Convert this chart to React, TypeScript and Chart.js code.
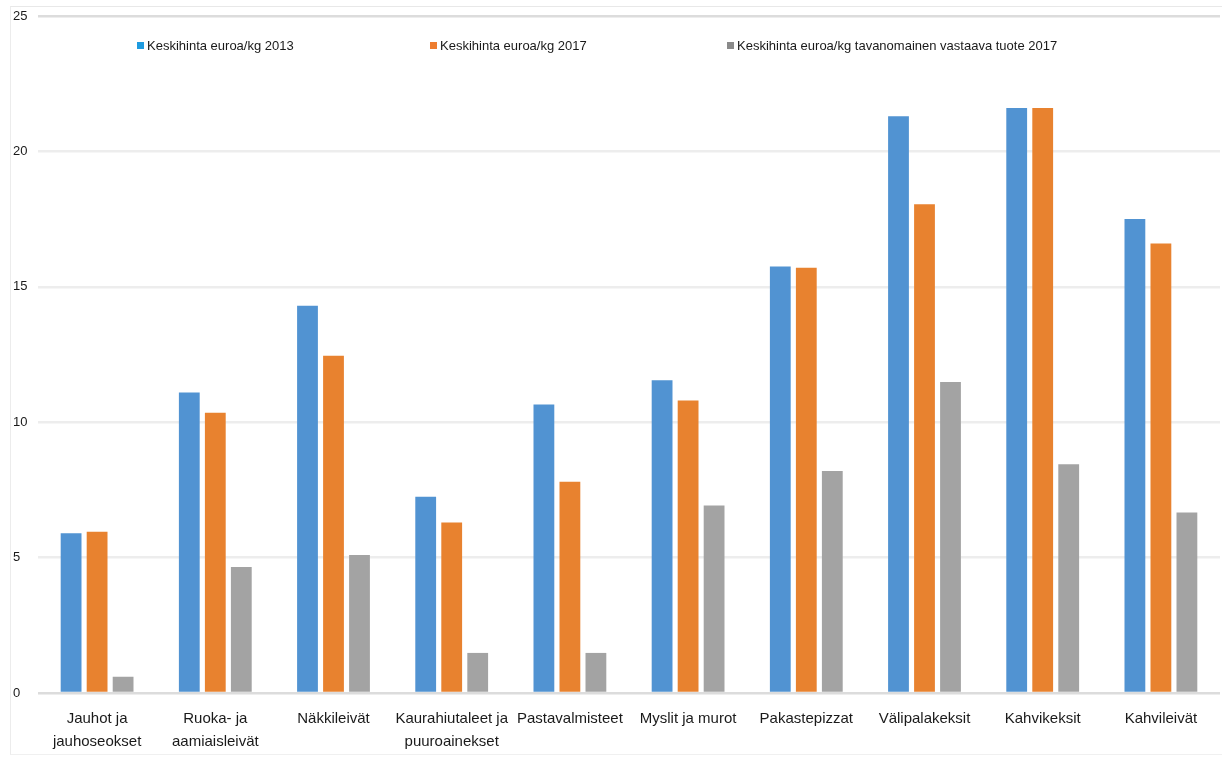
import React, { useEffect, useRef } from "react";
import { Chart, registerables } from "chart.js";

Chart.register(...registerables);

const categories: (string | string[])[] = [
  ["Jauhot ja", "jauhoseokset"],
  ["Ruoka- ja", "aamiaisleivät"],
  "Näkkileivät",
  ["Kaurahiutaleet ja", "puuroainekset"],
  "Pastavalmisteet",
  "Myslit ja murot",
  "Pakastepizzat",
  "Välipalakeksit",
  "Kahvikeksit",
  "Kahvileivät",
];

const price2013 = [5.9, 11.1, 14.3, 7.25, 10.65, 11.55, 15.75, 21.3, 21.6, 17.5];
const price2017 = [5.95, 10.35, 12.45, 6.3, 7.8, 10.8, 15.7, 18.05, 21.6, 16.6];
const regular2017 = [0.6, 4.65, 5.1, 1.48, 1.48, 6.92, 8.2, 11.48, 8.45, 6.67];

const seriesNames = [
  "Keskihinta euroa/kg 2013",
  "Keskihinta euroa/kg 2017",
  "Keskihinta euroa/kg tavanomainen vastaava tuote 2017",
];
const barColors = ["#5193d2", "#e8822f", "#a3a3a3"];
const legendColors = ["#1e9be0", "#ee7d2f", "#8a8a8a"];
const legendLeft = [137, 430, 727];

const yTicks = [0, 5, 10, 15, 20, 25];

export default function App() {
  const ref = useRef<HTMLCanvasElement | null>(null);

  useEffect(() => {
    if (!ref.current) return;
    const data = [price2013, price2017, regular2017];
    const chart = new Chart(ref.current, {
      type: "bar",
      data: {
        labels: categories,
        datasets: data.map((d, i) => ({
          label: seriesNames[i],
          data: d,
          backgroundColor: barColors[i],
          borderWidth: 0,
          categoryPercentage: 0.66,
          barPercentage: 0.8,
        })),
      },
      options: {
        animation: false,
        responsive: false,
        maintainAspectRatio: false,
        layout: { padding: { left: 13, top: 16, right: 2, bottom: 0 } },
        plugins: {
          legend: { display: false },
          tooltip: { enabled: false },
        },
        scales: {
          x: {
            grid: { display: false },
            border: { display: false },
            ticks: {
              color: "#1a1a1a",
              font: { family: "'Liberation Sans', Arial, sans-serif", size: 15, lineHeight: 1.55 },
              padding: 6,
              maxRotation: 0,
              autoSkip: false,
            },
            afterFit: (s: any) => {
              s.height = 70;
            },
          },
          y: {
            min: 0,
            max: 25,
            afterBuildTicks: (s: any) => {
              s.ticks = yTicks.map((v) => ({ value: v }));
            },
            grid: {
              color: (c: any) => (c.tick && (c.tick.value === 0 || c.tick.value === 25) ? "#dcdcdc" : "#ededed"),
              lineWidth: 2.5,
              drawTicks: false,
            },
            border: { display: false },
            ticks: {
              color: "#1a1a1a",
              crossAlign: "far",
              font: { family: "'Liberation Sans', Arial, sans-serif", size: 13 },
              padding: 4,
            },
            afterFit: (s: any) => {
              s.width = 25;
            },
          },
        },
      },
    });
    return () => chart.destroy();
  }, []);

  return (
    <div style={{ position: "absolute", left: 0, top: 0, width: 1222, height: 763, background: "#fff" }}>
      <div
        style={{
          position: "absolute",
          left: 10,
          top: 6,
          width: 1212,
          height: 749,
          borderTop: "1px solid #e8e8e8",
          borderLeft: "1px solid #ececec",
          borderBottom: "1px solid #f0f0f0",
          boxSizing: "border-box",
        }}
      />
      <canvas ref={ref} width={1222} height={763} style={{ position: "absolute", left: 0, top: 0 }} />
      {seriesNames.map((n, i) => (
        <div
          key={n}
          style={{
            position: "absolute",
            left: legendLeft[i],
            top: 38,
            display: "flex",
            alignItems: "center",
            fontFamily: "'Liberation Sans', Arial, sans-serif",
            fontSize: 13,
            color: "#1a1a1a",
            whiteSpace: "nowrap",
          }}
        >
          <span style={{ display: "inline-block", width: 7, height: 7, background: legendColors[i], marginRight: 3 }} />
          <span>{n}</span>
        </div>
      ))}
    </div>
  );
}
